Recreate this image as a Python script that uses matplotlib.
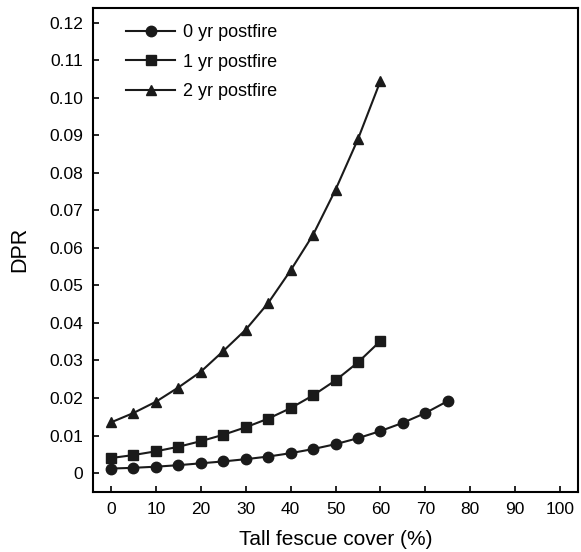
import numpy as np
import matplotlib.pyplot as plt

plt.rcParams['font.family'] = ['Liberation Sans', 'DejaVu Sans']

cover_0 = [0, 5, 10, 15, 20, 25, 30, 35, 40, 45, 50, 55, 60, 65, 70, 75]
dpr_0 = [0.0012, 0.0014, 0.0017, 0.0021, 0.0026, 0.0031, 0.0037, 0.0044,
         0.0053, 0.0064, 0.0077, 0.0093, 0.0112, 0.0134, 0.0160, 0.0192]

cover_1 = [0, 5, 10, 15, 20, 25, 30, 35, 40, 45, 50, 55, 60]
dpr_1 = [0.0040, 0.0048, 0.0058, 0.0070, 0.0085, 0.0102, 0.0122, 0.0145,
         0.0173, 0.0207, 0.0247, 0.0295, 0.0352]

cover_2 = [0, 5, 10, 15, 20, 25, 30, 35, 40, 45, 50, 55, 60]
dpr_2 = [0.0135, 0.0160, 0.0190, 0.0228, 0.0270, 0.0325, 0.0382, 0.0453,
         0.0540, 0.0635, 0.0755, 0.0890, 0.1045]

labels = ['0 yr postfire', '1 yr postfire', '2 yr postfire']
xticks = np.arange(0, 101, 10)
yticks = np.arange(0, 0.121, 0.01)

fig = plt.figure(figsize=(5.81, 5.52), dpi=100)
ax = fig.add_axes([0.160, 0.109, 0.835, 0.877])

style = dict(color='#1a1a1a', linewidth=1.5, markersize=7.5)
ax.plot(cover_0, dpr_0, marker='o', label=labels[0], **style)
ax.plot(cover_1, dpr_1, marker='s', label=labels[1], **style)
ax.plot(cover_2, dpr_2, marker='^', label=labels[2], **style)

ax.set_xlim(-4, 104)
ax.set_ylim(-0.005, 0.124)
ax.set_xticks(xticks)
ax.set_yticks(yticks)
ax.set_yticklabels(['0'] + [f'{v:.2f}' for v in yticks[1:]])
ax.tick_params(direction='in', length=4, width=1.2, labelsize=12.5, pad=7)
for s in ax.spines.values():
    s.set_linewidth(1.5)

ax.set_xlabel('Tall fescue cover (%)', fontsize=15, labelpad=10)
ax.set_ylabel('DPR', fontsize=15.5, labelpad=14)

ax.legend(loc='upper left', frameon=False, fontsize=13, handlelength=2.7,
          borderaxespad=0.5, labelspacing=0.7, handletextpad=0.45,
          bbox_to_anchor=(0.035, 1.0))

fig.savefig('out.png', dpi=100)
